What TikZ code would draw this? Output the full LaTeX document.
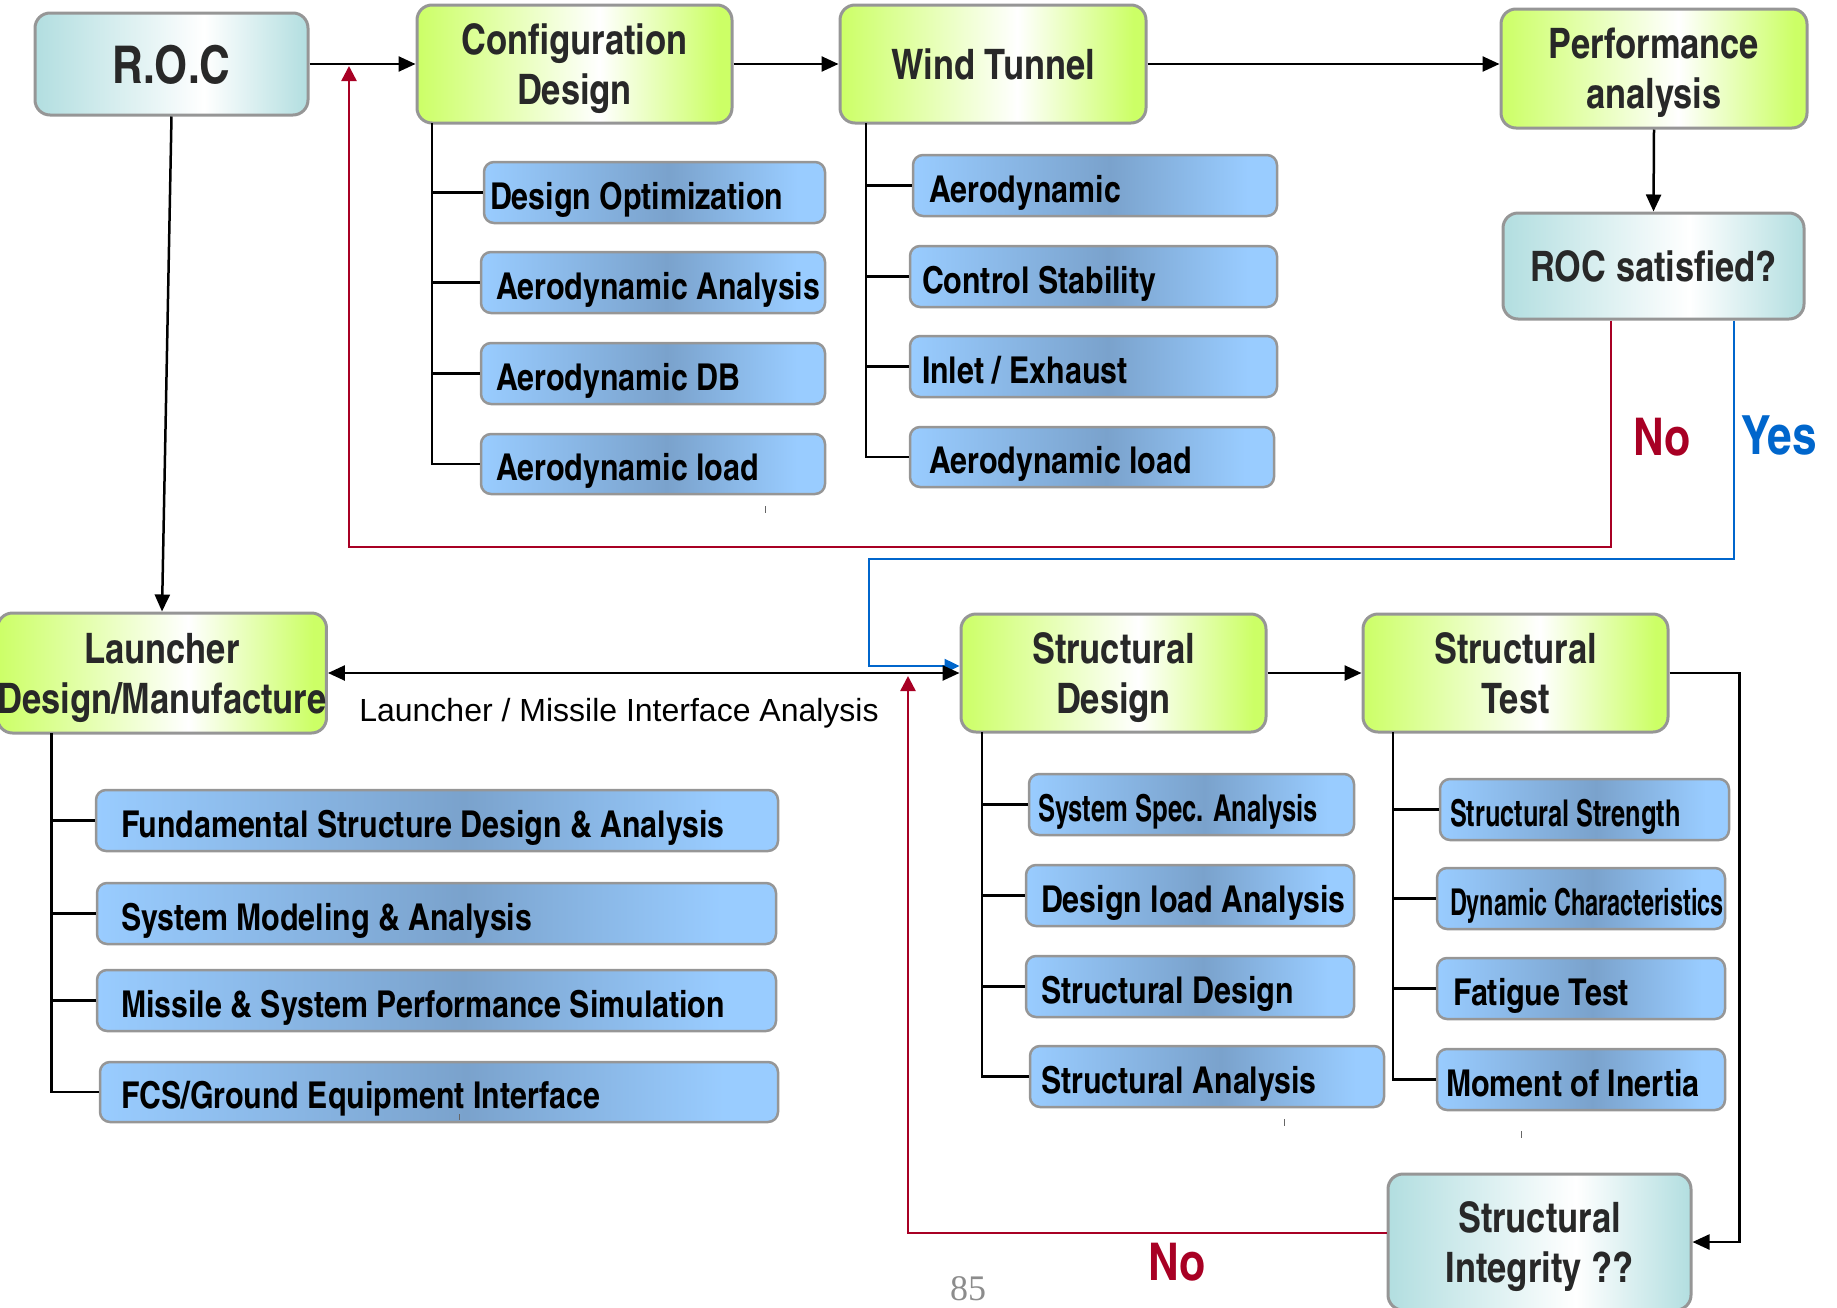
\documentclass[tikz,border=0pt]{standalone}
\usepackage{graphicx}
\usepackage{fontspec}
\setmainfont{Liberation Sans}
\newfontfamily\cnfont[Extension=.otf,UprightFont=*-regular,BoldFont=*-bold]{texgyreheroscn}
\newfontfamily\numfont{Liberation Serif}
\usetikzlibrary{arrows.meta}

\definecolor{limeA}{RGB}{204,255,102}
\definecolor{tealA}{RGB}{178,222,224}
\definecolor{skyA}{RGB}{153,204,255}
\definecolor{steelA}{RGB}{122,162,204}
\definecolor{rimA}{RGB}{150,150,150}
\definecolor{inkA}{RGB}{40,40,40}
\definecolor{noRed}{RGB}{168,0,36}
\definecolor{yesBlue}{RGB}{0,102,204}
\definecolor{pageNum}{RGB}{140,140,140}

% horizontal fills: the box spans 25bp..75bp of each shading
\pgfdeclarehorizontalshading{limebar}{100bp}{color(0bp)=(limeA); color(25bp)=(limeA); color(54bp)=(white); color(73bp)=(limeA); color(100bp)=(limeA)}
\pgfdeclarehorizontalshading{tealbar}{100bp}{color(0bp)=(tealA); color(25bp)=(tealA); color(56bp)=(white); color(75bp)=(tealA); color(100bp)=(tealA)}
\pgfdeclarehorizontalshading{skybar}{100bp}{color(0bp)=(skyA); color(25bp)=(skyA); color(52bp)=(steelA); color(71bp)=(skyA); color(100bp)=(skyA)}

\tikzset{
  panel/.style={draw=rimA, line width=3pt, rounded corners=15pt, inner sep=0pt,
    align=center, text=inkA, text depth=-5pt, font=\cnfont\bfseries\fontsize{42}{50}\selectfont},
  stage/.style={panel, shade, shading=limebar},
  check/.style={panel, shade, shading=tealbar},
  leaf/.style={draw=rimA, line width=2.5pt, rounded corners=10pt, shade, shading=skybar,
    inner ysep=0pt, text=black, font=\cnfont\bfseries\fontsize{37}{40}\selectfont,
    text height=33.5pt, text depth=0pt},
  link/.style={line width=2.5pt, draw=black},
  flow/.style={link, -{Triangle[length=17pt,width=15pt]}},
  twoway/.style={link, {Triangle[length=17pt,width=15pt]}-{Triangle[length=17pt,width=15pt]}},
  nopath/.style={line width=2.5pt, draw=noRed, -{Triangle[length=15pt,width=15pt]}},
  yespath/.style={line width=2.5pt, draw=yesBlue, -{Triangle[length=15pt,width=14pt]}},
  verdict/.style={font=\cnfont\bfseries\fontsize{52}{56}\selectfont, inner sep=0pt},
  speck/.style={draw=black!60, line width=1pt},
}

% box given by its corners: [style]{name}{x1}{y1}{x2}{y2}{text}
\newcommand\panelat[7][stage]{%
  \pgfmathsetmacro\pw{#5-#3}\pgfmathsetmacro\ph{#6-#4}%
  \node[#1, minimum width=\pw pt, minimum height=\ph pt] (#2) at ({(#3+#5)/2},{(#4+#6)/2}) {#7};}

% list item: {name}{x1}{y1}{x2}{y2}{left pad}{text}
\newcommand\leafat[7]{%
  \pgfmathsetmacro\pw{#4-#2}\pgfmathsetmacro\ph{#5-#3}\pgfmathsetmacro\tw{#4-#2-2*#6}%
  \node[leaf, minimum width=\pw pt, minimum height=\ph pt, inner xsep=#6 pt] (#1)
    at ({(#2+#4)/2},{(#3+#5)/2}) {\makebox[\tw pt][l]{#7}};}

\begin{document}
\begin{tikzpicture}[x=1pt,y=-1pt]
\useasboundingbox (0,0) rectangle (1837,1307);

% ---- stages ----
\panelat[check]{roc}{35}{13}{308}{115}{\fontsize{52}{56}\selectfont R.O.C}
\panelat{cfg}{417}{5}{732}{123}{Configuration\\Design}
\panelat{wt}{840}{5}{1146}{123}{Wind Tunnel}
\panelat{perf}{1501}{9}{1807}{128}{Performance\\analysis}
\panelat[check]{rocq}{1503}{213}{1804}{319}{ROC satisfied?}

\panelat{launch}{0}{613}{324}{733}{Launcher\\Design/Manufacture}
\panelat{sd}{961}{614}{1266}{732}{Structural\\Design}
\panelat{st}{1363}{614}{1668}{732}{Structural\\Test}
\panelat[check]{si}{1388}{1174}{1691}{1310}{Structural\\Integrity ??}

% ---- configuration design items ----
\leafat{c1}{484}{162}{825}{223}{6}{Design Optimization}
\leafat{c2}{481}{252}{825}{313}{15}{Aerodynamic Analysis}
\leafat{c3}{481}{343}{825}{404}{15}{Aerodynamic DB}
\leafat{c4}{481}{434}{825}{494}{15}{Aerodynamic load}

% ---- wind tunnel items ----
\leafat{w1}{913}{155}{1277}{216}{16}{Aerodynamic}
\leafat{w2}{910}{246}{1277}{307}{12}{Control Stability}
\leafat{w3}{910}{336}{1277}{397}{12}{Inlet / Exhaust}
\leafat{w4}{910}{427}{1274}{487}{19}{Aerodynamic load}

% ---- launcher items ----
\leafat{m1}{96}{790}{778}{851}{25}{Fundamental Structure Design \& Analysis}
\leafat{m2}{97}{883}{776}{944}{24}{System Modeling \& Analysis}
\leafat{m3}{97}{970}{776}{1031}{24}{Missile \& System Performance Simulation}
\leafat{m4}{100}{1062}{778}{1122}{21}{FCS/Ground Equipment Interface}

% ---- structural design items ----
\leafat{d1}{1029}{774}{1354}{835}{9}{\scalebox{0.845}[1]{System Spec. Analysis}}
\leafat{d2}{1026}{865}{1354}{926}{15}{Design load Analysis}
\leafat{d3}{1026}{956}{1354}{1017}{15}{Structural Design}
\leafat{d4}{1030}{1046}{1384}{1107}{11}{Structural Analysis}

% ---- structural test items ----
\leafat{t1}{1440}{779}{1729}{840}{10}{\scalebox{0.835}[1]{Structural Strength}}
\leafat{t2}{1437}{868}{1725}{929}{13}{\scalebox{0.773}[1]{Dynamic Characteristics}}
\leafat{t3}{1437}{958}{1725}{1019}{16}{Fatigue Test}
\leafat{t4}{1437}{1049}{1725}{1110}{9}{Moment of Inertia}

% ---- tree trunks ----
\coordinate (cfgTrunk) at (432,123);
\coordinate (wtTrunk) at (866,123);
\coordinate (lnTrunk) at (51.5,733);
\coordinate (sdTrunk) at (982,732);
\coordinate (stTrunk) at (1393,732);

\draw[link] (cfgTrunk) |- (c4.west);
\foreach \n in {c1,c2,c3}{\draw[link] (cfgTrunk |- \n.west) -- (\n.west);}
\draw[link] (wtTrunk) |- (w4.west);
\foreach \n in {w1,w2,w3}{\draw[link] (wtTrunk |- \n.west) -- (\n.west);}
\draw[link] (lnTrunk) |- (m4.west);
\foreach \n in {m1,m2,m3}{\draw[link] (lnTrunk |- \n.west) -- (\n.west);}
\draw[link] (sdTrunk) |- (d4.west);
\foreach \n in {d1,d2,d3}{\draw[link] (sdTrunk |- \n.west) -- (\n.west);}
\draw[link] (stTrunk) |- (t4.west);
\foreach \n in {t1,t2,t3}{\draw[link] (stTrunk |- \n.west) -- (\n.west);}

% ---- decision branches ----
\coordinate (noDrop) at (1611,547);
\coordinate (noBack) at (349,547);
\coordinate (noTip) at (349,66);
\draw[nopath] (rocq.south -| noDrop) -- (noDrop) -- (noBack) -- (noTip);

\coordinate (yesDrop) at (1734,559);
\coordinate (yesTurn) at (869,559);
\coordinate (yesIn) at (869,666);
\draw[yespath] (rocq.south -| yesDrop) -- (yesDrop) -- (yesTurn) -- (yesIn) -- (yesIn -| sd.west);

\coordinate (siNo) at (908,1233);
\coordinate (siTip) at (908,676);
\draw[nopath] (si.west |- siNo) -- (siNo) -- (siTip);

% ---- main flow ----
\draw[flow] (roc.east) -- (cfg.west);
\draw[flow] (cfg.east) -- (wt.west);
\draw[flow] (wt.east) -- (wt.east -| perf.west);
\draw[flow] (perf.south) -- (rocq.north);
\draw[flow] (roc.south) -- (launch.north);
\draw[twoway] (launch.east) -- (sd.west);
\draw[flow] (sd.east) -- (st.west);
\draw[flow] (st.east) -- ++(70,0) |- (si.east);

% ---- labels ----
\node[verdict, text=noRed] (noTop) at (1662,437) {No};
\node[verdict, text=yesBlue, font=\cnfont\bfseries\fontsize{54}{58}\selectfont] (yesTop) at (1779,435) {Yes};
\node[verdict, text=noRed] (noLow) at (1177,1262) {No};
\node[font=\fontsize{32}{36}\selectfont, inner sep=0pt] (ifaceLbl) at (619,713) {Launcher / Missile Interface Analysis};
\node[font=\numfont\fontsize{36}{40}\selectfont, text=pageNum, anchor=base, inner sep=0pt] (pgno) at (968,1300) {85};

% ---- stray specks ----
\draw[speck] (765,506) -- (765,513);
\draw[speck] (459,1114) -- (459,1120);
\draw[speck] (1284,1119) -- (1284,1126);
\draw[speck] (1521,1131) -- (1521,1138);
\end{tikzpicture}
\end{document}
